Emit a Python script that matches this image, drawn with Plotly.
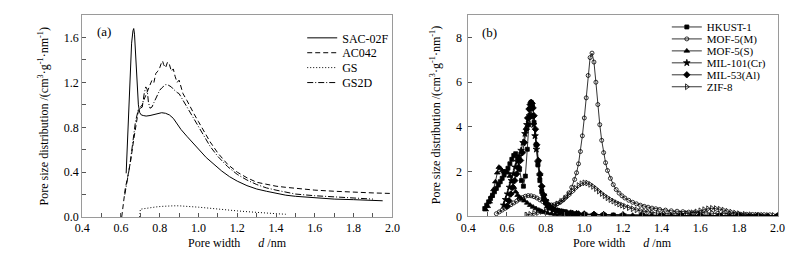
import plotly.graph_objects as go

# ---------------- Panel (a) data ----------------
sac_x = [0.627,0.635,0.645,0.655,0.662,0.666,0.670,0.676,0.683,0.690,0.697,0.705,0.715,0.73,0.75,0.77,0.79,0.81,0.83,0.85,0.87,0.89,0.91,0.94,0.97,1.0,1.04,1.08,1.12,1.16,1.2,1.25,1.3,1.35,1.4,1.45,1.5,1.6,1.7,1.8,1.9,1.95]
sac_y = [0.39,0.75,1.2,1.55,1.66,1.68,1.63,1.42,1.18,1.0,0.93,0.91,0.905,0.9,0.905,0.915,0.925,0.93,0.925,0.91,0.88,0.83,0.78,0.72,0.66,0.6,0.53,0.47,0.41,0.36,0.32,0.28,0.25,0.23,0.21,0.195,0.185,0.17,0.16,0.155,0.15,0.145]

ac_x = [0.604,0.612,0.622,0.635,0.65,0.665,0.68,0.69,0.70,0.71,0.72,0.735,0.75,0.76,0.77,0.78,0.79,0.80,0.81,0.815,0.82,0.83,0.84,0.85,0.86,0.87,0.88,0.89,0.90,0.91,0.92,0.94,0.96,0.98,1.0,1.03,1.06,1.1,1.15,1.2,1.25,1.3,1.35,1.4,1.45,1.5,1.6,1.7,1.8,1.9,2.0]
ac_y = [0.0,0.12,0.25,0.36,0.5,0.68,0.86,0.95,0.98,1.0,1.05,1.12,1.18,1.22,1.2,1.28,1.3,1.33,1.38,1.39,1.36,1.33,1.38,1.36,1.3,1.32,1.25,1.2,1.22,1.15,1.1,1.04,0.97,0.91,0.85,0.76,0.67,0.57,0.47,0.4,0.35,0.31,0.29,0.275,0.265,0.255,0.24,0.23,0.22,0.215,0.21]

gs_x = [0.697,0.70,0.72,0.75,0.78,0.81,0.84,0.87,0.90,0.93,0.96,1.0,1.05,1.1,1.15,1.2,1.25,1.3,1.35,1.4,1.45]
gs_y = [0.0,0.07,0.075,0.085,0.09,0.095,0.1,0.1,0.1,0.098,0.094,0.088,0.08,0.07,0.062,0.055,0.048,0.04,0.035,0.03,0.025]

gs2d_x = [0.62,0.63,0.645,0.66,0.675,0.69,0.70,0.71,0.72,0.728,0.735,0.742,0.75,0.76,0.77,0.78,0.79,0.80,0.81,0.82,0.83,0.84,0.85,0.86,0.87,0.88,0.89,0.90,0.92,0.94,0.96,0.98,1.0,1.03,1.06,1.1,1.15,1.2,1.25,1.3,1.35,1.4,1.45,1.5,1.6,1.7,1.8,1.9]
gs2d_y = [0.2,0.3,0.45,0.65,0.85,0.96,0.97,0.98,1.1,1.16,1.14,1.02,0.97,0.98,1.02,1.06,1.1,1.13,1.15,1.17,1.18,1.18,1.17,1.16,1.14,1.12,1.11,1.1,1.04,0.98,0.92,0.86,0.8,0.71,0.63,0.54,0.45,0.38,0.33,0.29,0.26,0.24,0.22,0.205,0.19,0.18,0.17,0.16]

# ---------------- Panel (b) data ----------------
hkust_x = [0.485,0.495,0.505,0.515,0.525,0.535,0.545,0.555,0.565,0.575,0.585,0.595,0.605,0.615,0.625,0.635,0.645,0.655,0.665,0.675,0.685,0.695,0.705,0.712,0.718,0.725,0.732,0.74,0.75,0.76,0.77,0.78,0.79,0.80,0.81,0.82,0.84,0.86,0.88,0.90,0.93,0.96,1.0,1.05,1.1,1.15,1.2,1.3,1.4,1.5,1.6,1.7,1.8,1.9,2.0]
hkust_y = [0.35,0.5,0.65,0.8,0.95,1.1,1.25,1.4,1.55,1.7,1.85,2.0,2.15,2.35,2.55,2.72,2.8,2.6,2.1,1.6,1.35,1.8,3.0,4.1,4.8,5.1,4.9,4.2,3.2,2.3,1.6,1.1,0.8,0.6,0.48,0.4,0.32,0.27,0.23,0.2,0.16,0.13,0.1,0.08,0.07,0.06,0.05,0.05,0.04,0.04,0.03,0.03,0.03,0.02,0.02]

mof5m_x = [0.545,0.56,0.575,0.59,0.605,0.62,0.635,0.65,0.665,0.68,0.695,0.71,0.725,0.74,0.755,0.77,0.785,0.80,0.815,0.83,0.845,0.86,0.875,0.89,0.905,0.92,0.935,0.95,0.96,0.97,0.98,0.99,1.0,1.01,1.02,1.03,1.04,1.05,1.06,1.07,1.08,1.09,1.10,1.11,1.12,1.135,1.15,1.165,1.18,1.195,1.21,1.23,1.25,1.27,1.29,1.31,1.33,1.35,1.37,1.39,1.42,1.45,1.48,1.51,1.54,1.57,1.60,1.63,1.66,1.69,1.72,1.75,1.78,1.81,1.84,1.87,1.90,1.93,1.96]
mof5m_y = [0.12,0.2,0.28,0.36,0.44,0.52,0.6,0.68,0.76,0.84,0.9,0.93,0.92,0.88,0.82,0.74,0.66,0.59,0.54,0.51,0.52,0.56,0.63,0.73,0.87,1.05,1.3,1.65,1.95,2.35,2.9,3.6,4.4,5.3,6.3,7.1,7.3,6.9,6.0,5.0,4.1,3.4,2.85,2.4,2.05,1.7,1.42,1.2,1.04,0.92,0.82,0.72,0.63,0.56,0.5,0.45,0.41,0.37,0.34,0.31,0.28,0.25,0.23,0.21,0.19,0.17,0.16,0.15,0.14,0.13,0.12,0.11,0.1,0.095,0.09,0.085,0.08,0.075,0.07]

mof5s_x = [0.49,0.50,0.51,0.52,0.53,0.54,0.55,0.558,0.566,0.575,0.585,0.595,0.605,0.615,0.625,0.635,0.645,0.655,0.665,0.675,0.69,0.705,0.72,0.735,0.75,0.765,0.78,0.795,0.81,0.83,0.85,0.87,0.9,0.93,0.96,1.0,1.05,1.1,1.15,1.2,1.25,1.3,1.35,1.4,1.45,1.5,1.55,1.6,1.65,1.7,1.75,1.8,1.85,1.9,1.95,2.0]
mof5s_y = [0.3,0.45,0.65,0.9,1.2,1.55,1.95,2.2,2.15,2.05,2.0,1.98,1.95,1.8,1.55,1.3,1.1,0.95,0.85,0.78,0.7,0.6,0.5,0.42,0.35,0.28,0.22,0.18,0.15,0.12,0.1,0.09,0.08,0.08,0.07,0.07,0.06,0.06,0.05,0.05,0.05,0.05,0.04,0.04,0.04,0.04,0.03,0.03,0.03,0.03,0.03,0.03,0.02,0.02,0.02,0.02]

mil101_x = [0.583,0.593,0.603,0.613,0.623,0.633,0.643,0.653,0.663,0.673,0.683,0.693,0.703,0.71,0.717,0.724,0.731,0.738,0.745,0.752,0.76,0.77,0.78,0.79,0.80,0.81,0.82,0.84,0.86,0.88,0.90,0.93,0.96,1.0,1.05,1.1,1.2,1.3,1.4,1.5,1.6,1.7,1.8,1.9,2.0]
mil101_y = [0.5,0.75,1.0,1.3,1.6,1.9,2.2,2.45,2.7,2.95,3.3,3.7,4.1,4.35,4.5,4.55,4.45,4.1,3.6,3.0,2.4,1.8,1.3,0.95,0.7,0.52,0.4,0.3,0.24,0.2,0.17,0.14,0.12,0.1,0.08,0.07,0.06,0.05,0.04,0.04,0.03,0.03,0.03,0.02,0.02]

mil53_x = [0.60,0.61,0.62,0.63,0.64,0.65,0.66,0.67,0.68,0.69,0.70,0.707,0.714,0.72,0.725,0.73,0.735,0.74,0.747,0.754,0.762,0.77,0.78,0.79,0.80,0.81,0.82,0.835,0.85,0.87,0.89,0.91,0.94,0.97,1.0,1.05,1.1,1.2,1.3,1.4,1.5,1.6,1.7,1.8,1.9,2.0]
mil53_y = [0.45,0.7,1.0,1.3,1.6,1.9,2.2,2.5,2.85,3.3,3.9,4.4,4.8,5.0,5.1,5.05,4.85,4.5,3.9,3.2,2.5,1.9,1.35,0.95,0.7,0.52,0.42,0.33,0.27,0.22,0.19,0.16,0.13,0.11,0.09,0.08,0.07,0.06,0.05,0.04,0.04,0.03,0.03,0.03,0.02,0.02]

zif8_x = [0.70,0.72,0.74,0.76,0.78,0.80,0.82,0.84,0.86,0.88,0.90,0.92,0.94,0.955,0.97,0.985,1.0,1.015,1.03,1.045,1.06,1.075,1.09,1.105,1.12,1.135,1.15,1.165,1.18,1.195,1.21,1.23,1.25,1.27,1.29,1.31,1.33,1.35,1.38,1.41,1.44,1.47,1.50,1.53,1.56,1.58,1.60,1.62,1.64,1.66,1.68,1.70,1.72,1.74,1.76,1.78,1.80,1.83,1.86,1.89,1.92,1.95,1.98]
zif8_y = [0.06,0.09,0.13,0.17,0.22,0.29,0.37,0.46,0.56,0.67,0.8,0.95,1.12,1.26,1.38,1.46,1.5,1.49,1.43,1.34,1.24,1.13,1.02,0.92,0.83,0.75,0.68,0.61,0.55,0.5,0.45,0.39,0.34,0.29,0.25,0.22,0.19,0.17,0.14,0.12,0.11,0.11,0.12,0.13,0.16,0.2,0.25,0.3,0.34,0.36,0.35,0.32,0.28,0.23,0.19,0.15,0.12,0.09,0.07,0.06,0.05,0.04,0.04]

names_a = ["SAC-02F", "AC042", "GS", "GS2D"]
names_b = ["HKUST-1", "MOF-5(M)", "MOF-5(S)", "MIL-101(Cr)", "MIL-53(Al)", "ZIF-8"]

# ---------------- figure ----------------
W, H = 806, 253
SERIF = "Liberation Serif"

def px(v):
    return v / W

def py(v):
    return 1 - v / H

fig = go.Figure()

a_series = [(sac_x, sac_y, "solid"), (ac_x, ac_y, "5px,3px"),
            (gs_x, gs_y, "1px,2px"), (gs2d_x, gs2d_y, "6px,2px,1px,2px")]
legend_ids = ["legend"] + [f"legend{i}" for i in range(2, 11)]

for i, (name, (xs, ys, dash)) in enumerate(zip(names_a, a_series)):
    fig.add_trace(go.Scatter(x=xs, y=ys, mode="lines", name=name,
                             line=dict(color="black", width=1, dash=dash),
                             xaxis="x", yaxis="y", legend=legend_ids[i]))

b_series = [(hkust_x, hkust_y, "square", 4), (mof5m_x, mof5m_y, "circle-open", 4),
            (mof5s_x, mof5s_y, "triangle-up", 5), (mil101_x, mil101_y, "star", 5),
            (mil53_x, mil53_y, "diamond", 5), (zif8_x, zif8_y, "triangle-right-open", 5)]

for j, (name, (xs, ys, sym, sz)) in enumerate(zip(names_b, b_series)):
    fig.add_trace(go.Scatter(x=xs, y=ys, mode="lines+markers", name=name,
                             line=dict(color="black", width=0.8),
                             marker=dict(symbol=sym, size=sz, color="black",
                                         line=dict(color="black", width=0.8)),
                             xaxis="x2", yaxis="y2", legend=legend_ids[4 + j]))

axis_common = dict(showline=True, linecolor="#9a9a9a", linewidth=1, mirror=True,
                   ticks="inside", ticklen=4, tickcolor="#555", tickwidth=1,
                   showgrid=False, zeroline=False,
                   tickfont=dict(family=SERIF, size=12, color="black"))
xminor = dict(dtick=0.1, ticks="inside", ticklen=4, tickcolor="#555", tickwidth=1, showgrid=False)

layout = dict(
    width=W, height=H, autosize=False, showlegend=True,
    margin=dict(l=0, r=0, t=0, b=0),
    paper_bgcolor="white", plot_bgcolor="white",
    font=dict(family=SERIF, size=12, color="black"),
    xaxis=dict(domain=[px(67.5), px(384)], range=[0.4, 2.0], tick0=0.4, dtick=0.2,
               tickformat=".1f", minor=xminor, anchor="y", **axis_common),
    yaxis=dict(domain=[py(215), py(7.3)], range=[0, 1.8], tick0=0, dtick=0.4,
               tickformat=".1f", anchor="x",
               minor=dict(dtick=0.2, ticks="inside", ticklen=4, tickcolor="#555", showgrid=False),
               **axis_common),
    xaxis2=dict(domain=[px(461.5), px(777)], range=[0.4, 2.0], tick0=0.4, dtick=0.2,
                tickformat=".1f", minor=xminor, anchor="y2", **axis_common),
    yaxis2=dict(domain=[py(214.3), py(7.3)], range=[0, 9], tick0=0, dtick=2,
                tickformat="d", anchor="x2", ticklabelstandoff=3, **axis_common),
)

# individual legends, one per entry, to reproduce the tight spacing
rows_a = [30.7, 46, 61.3, 76.7]
rows_b = [19.5, 31.8, 44.1, 56.4, 68.7, 81]
for i, r in enumerate(rows_a):
    layout[legend_ids[i]] = dict(x=px(292), y=py(r), xanchor="left", yanchor="middle",
                                 bgcolor="rgba(0,0,0,0)", borderwidth=0, visible=True,
                                 font=dict(family=SERIF, size=12, color="black"))
for j, r in enumerate(rows_b):
    layout[legend_ids[4 + j]] = dict(x=px(664), y=py(r), xanchor="left", yanchor="middle",
                                     bgcolor="rgba(0,0,0,0)", borderwidth=0, visible=True,
                                     font=dict(family=SERIF, size=11, color="black"))

xt = "Pore width" + "\u00a0" * 6 + "<i>d</i> /nm"
yt = "Pore size distribution /(cm<sup>3</sup>·g<sup>-1</sup>·nm<sup>-1</sup>)"
annotations = [
    dict(text=xt, xref="x domain", x=0.5, yref="paper", y=py(242), showarrow=False,
         xanchor="center", yanchor="middle", font=dict(family=SERIF, size=12)),
    dict(text=xt, xref="x2 domain", x=0.5, yref="paper", y=py(242), showarrow=False,
         xanchor="center", yanchor="middle", font=dict(family=SERIF, size=12)),
    dict(text=yt, xref="paper", x=px(28), yref="y domain", y=0.5, showarrow=False,
         textangle=-90, xanchor="center", yanchor="middle", font=dict(family=SERIF, size=12)),
    dict(text=yt, xref="paper", x=px(428), yref="y2 domain", y=0.5, showarrow=False,
         textangle=-90, xanchor="center", yanchor="middle", font=dict(family=SERIF, size=12)),
    dict(text="(a)", xref="paper", x=px(89.5), yref="paper", y=py(24), showarrow=False,
         xanchor="center", yanchor="middle", font=dict(family=SERIF, size=13)),
    dict(text="(b)", xref="paper", x=px(483.5), yref="paper", y=py(25), showarrow=False,
         xanchor="center", yanchor="middle", font=dict(family=SERIF, size=13)),
]
layout["annotations"] = annotations
fig.update_layout(**layout)

fig.write_html("out.html")
